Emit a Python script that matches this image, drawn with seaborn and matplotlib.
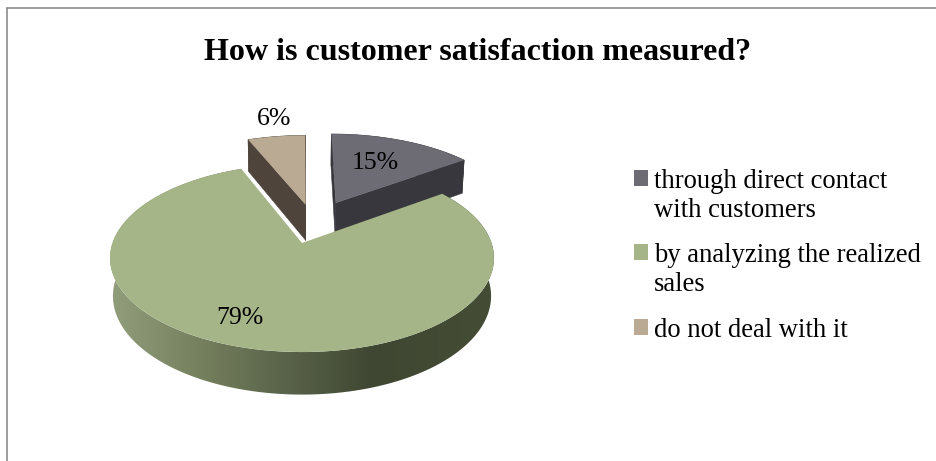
import matplotlib
matplotlib.use("Agg")
import matplotlib.pyplot as plt
from matplotlib.colors import LinearSegmentedColormap
from matplotlib.lines import Line2D
from matplotlib.patches import Polygon
from matplotlib.transforms import Transform
import numpy as np
import seaborn as sns

TITLE = "How is customer satisfaction measured?"
categories = ["through direct contact\nwith customers",
              "by analyzing the realized\nsales",
              "do not deal with it"]
shares = [15, 79, 6]
slice_offsets = [0.28, 0.23, 0.23]
top_colors = ["#6D6C74", "#A5B587", "#BBAA93"]
wall_colors = ["#38373D", "#434B35", "#4E443C"]
green_wall_ramp = ["#939F7C", "#76815F", "#5A644A", "#3F4732", "#434B35"]

# Camera set-up for the tilted pie, in pixels of the finished figure
APEX_X, APEX_Y = 302, 243
SCALE_X, SCALE_Y = 189.5, 91.6
TILT = 0.16
DEPTH = 38
SHRINK = 0.015

sns.set_theme(style="white")
plt.rcParams["font.family"] = ["Liberation Serif", "DejaVu Serif"]


class TiltedPlane(Transform):
    """Perspective view of the pie plane, lowered by `drop` (0 top face, 1 base)."""
    input_dims = output_dims = 2

    def __init__(self, origin, drop=0.0):
        super().__init__()
        self.origin = origin
        self.drop = drop

    def transform_non_affine(self, values):
        x = values[:, 0] - self.origin[0]
        y = values[:, 1] - self.origin[1]
        w = 1 + TILT * y + SHRINK * self.drop
        return np.column_stack((APEX_X + SCALE_X * x / w,
                                APEX_Y - SCALE_Y * y / w + DEPTH * self.drop / w))


def wall_outline(origin, plane_pts):
    """Outline of a run of plane points extruded downwards."""
    top = TiltedPlane(origin).transform_non_affine(plane_pts)
    base = TiltedPlane(origin, 1.0).transform_non_affine(plane_pts)
    return np.vstack((top, base[::-1]))


fig = plt.figure(figsize=(9.37, 4.61), dpi=100)
ax = fig.add_axes([0, 0, 1, 1])
wedges, _ = ax.pie(shares, colors=top_colors, startangle=90, counterclock=False,
                   explode=slice_offsets, radius=1.0, wedgeprops={"linewidth": 0})

origin = wedges[1].center
ramp = LinearSegmentedColormap.from_list("green_wall", green_wall_ramp)
layer = 1.0

for i, wedge in enumerate(wedges):
    cx, cy = wedge.center
    angles = np.radians(np.linspace(wedge.theta1, wedge.theta2, 240))
    arc = np.column_stack((cx + wedge.r * np.cos(angles), cy + wedge.r * np.sin(angles)))
    apex = np.array([[cx, cy]])
    if i == 1:
        # The large slice shades from light on the left to dark on the right
        outline = Polygon(wall_outline(origin, arc), closed=True, facecolor="none",
                          edgecolor="none", transform=ax.transData)
        ax.add_patch(outline)
        shade = ax.imshow(np.linspace(0, 1, 256)[None, :], cmap=ramp, aspect="auto",
                          extent=(108, 461, 420, 150), zorder=layer, interpolation="bilinear")
        tail = ax.imshow(np.ones((1, 2)), cmap=ramp, vmin=0, vmax=1, aspect="auto",
                         extent=(461, 500, 420, 150), zorder=layer)
        shade.set_clip_path(outline)
        tail.set_clip_path(outline)
        layer += 0.01
    else:
        for pts in (arc, np.vstack((apex, arc[:1])), np.vstack((apex, arc[-1:]))):
            ax.add_patch(Polygon(wall_outline(origin, pts), closed=True, color=wall_colors[i],
                                 lw=0.4, zorder=layer))
            layer += 0.01
    wedge.set_transform(TiltedPlane(origin) + ax.transData)
    wedge.set_zorder(layer)
    layer += 0.01

ax.set_aspect("auto")
ax.set_xlim(0, 937)
ax.set_ylim(461, 0)

for text, x, y in zip([f"{s}%" for s in shares], [375, 240, 274], [163, 318, 119]):
    ax.text(x, y, text, fontsize=18.5, color="black", ha="center", va="center", zorder=10)

ax.text(478, 52, TITLE, fontsize=23, fontweight="bold", color="black",
        ha="center", va="center", zorder=10)

legend = ax.legend(wedges, categories, loc="upper left", bbox_to_anchor=(634 / 937, 1 - 169 / 461),
                   frameon=False, fontsize=19.2, handlelength=0.53, handleheight=0.53,
                   handletextpad=0.22, labelspacing=0.77, borderpad=0, borderaxespad=0,
                   labelcolor="black")
for text in legend.get_texts():
    text.set_linespacing(1.2)
for handle, label in zip(legend.legend_handles, categories):
    if "\n" in label:
        handle.set_y(handle.get_y() + 13)

# Chart-area border: only the top and left sides show
for xs, ys in [((7, 7), (8, 461)), ((7, 937), (8, 8))]:
    fig.add_artist(Line2D(np.array(xs) / 937, 1 - np.array(ys) / 461, color="#8C8C8C", lw=1.2))

fig.savefig("out.png", dpi=100)
